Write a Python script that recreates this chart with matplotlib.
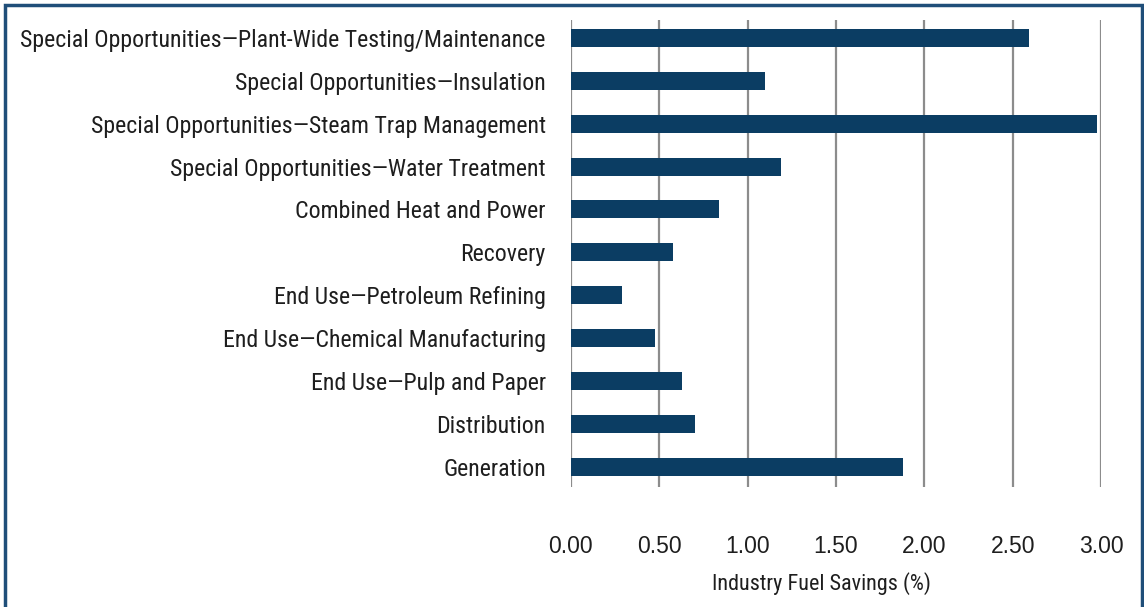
import matplotlib
matplotlib.use("Agg")
import matplotlib.pyplot as plt
from matplotlib import font_manager
from matplotlib.font_manager import FontProperties
from matplotlib.patches import Rectangle

categories = [
    "Generation",
    "Distribution",
    "End Use\u2014Pulp and Paper",
    "End Use\u2014Chemical Manufacturing",
    "End Use\u2014Petroleum Refining",
    "Recovery",
    "Combined Heat and Power",
    "Special Opportunities\u2014Water Treatment",
    "Special Opportunities\u2014Steam Trap Management",
    "Special Opportunities\u2014Insulation",
    "Special Opportunities\u2014Plant-Wide Testing/Maintenance",
]
values = [1.88, 0.70, 0.63, 0.475, 0.29, 0.58, 0.84, 1.19, 2.98, 1.10, 2.59]
xticks = [0.0, 0.5, 1.0, 1.5, 2.0, 2.5, 3.0]
xlabel = "Industry Fuel Savings (%)"

# find a condensed / narrow font if available
narrow_file = None
cands = []
for f in font_manager.fontManager.ttflist:
    n = f.name.lower()
    fn = f.fname.lower()
    if f.style != "normal":
        continue
    if ("narrow" in n or "condensed" in n or "condensed" in fn or "narrow" in fn
            or str(f.stretch) in ("condensed", "semi-condensed", "extra-condensed", "375", "500")):
        if "bold" in fn or "light" in fn or "thin" in fn or "black" in fn or "medium" in fn or "semibold" in fn or "extra" in fn:
            continue
        if "cjk" in n or "mono" in n:
            continue
        cands.append(f)
def rank(f):
    n = f.name.lower()
    if "liberation" in n: return 0
    if "roboto" in n: return 1
    if "noto sans" in n: return 2
    if "dejavu" in n: return 3
    return 4
cands.sort(key=rank)
if cands:
    narrow_file = cands[0].fname

def nprops(size):
    if narrow_file:
        return FontProperties(fname=narrow_file, size=size)
    return FontProperties(family="Liberation Sans", size=size)

fig = plt.figure(figsize=(11.44, 6.07), dpi=100)
ax = fig.add_axes([0.499, 0.198, 0.9624 - 0.499, 0.967 - 0.198])

ypos = list(range(len(categories)))
ax.barh(ypos, values, height=0.42, color="#0b3d63", zorder=3)
ax.set_xlim(0, 3.0)
ax.set_ylim(-0.47, 10.42)
ax.set_xticks(xticks)
ax.set_xticklabels([f"{t:.2f}" for t in xticks], fontsize=16.5, family="Liberation Sans", color="#1e1e1e")
ax.set_yticks(ypos)

# size y labels so the longest label spans ~524 px
renderer = fig.canvas.get_renderer()
longest = max(categories, key=len)
probe = fig.text(0, 0, longest, fontproperties=nprops(20))
w = probe.get_window_extent(renderer).width
probe.remove()
ysize = 20 * 524 / w
ylabels = ax.set_yticklabels(categories, color="#1e1e1e")
for t in ylabels:
    t.set_fontproperties(nprops(ysize))

ax.tick_params(axis="both", length=0)
ax.tick_params(axis="x", pad=35)
ax.tick_params(axis="y", pad=18)
for s in ax.spines.values():
    s.set_visible(False)
ax.xaxis.grid(True, color="#8c8c8c", linewidth=1.6, zorder=0)
ax.set_axisbelow(True)

# xlabel sized to ~219 px wide
probe = fig.text(0, 0, xlabel, fontproperties=nprops(20))
w2 = probe.get_window_extent(renderer).width
probe.remove()
xl = ax.set_xlabel(xlabel, color="#1e1e1e")
xl.set_fontproperties(nprops(20 * 219 / w2))
ax.xaxis.set_label_coords((822 - 571) / 530, -0.183)

fig.patches.append(Rectangle((5 / 1144, -0.05), 1137 / 1144, 1 - 5 / 607 + 0.05,
                             transform=fig.transFigure, fill=False,
                             edgecolor="#1f4e79", linewidth=2.5))

fig.savefig("out.png", dpi=100)
